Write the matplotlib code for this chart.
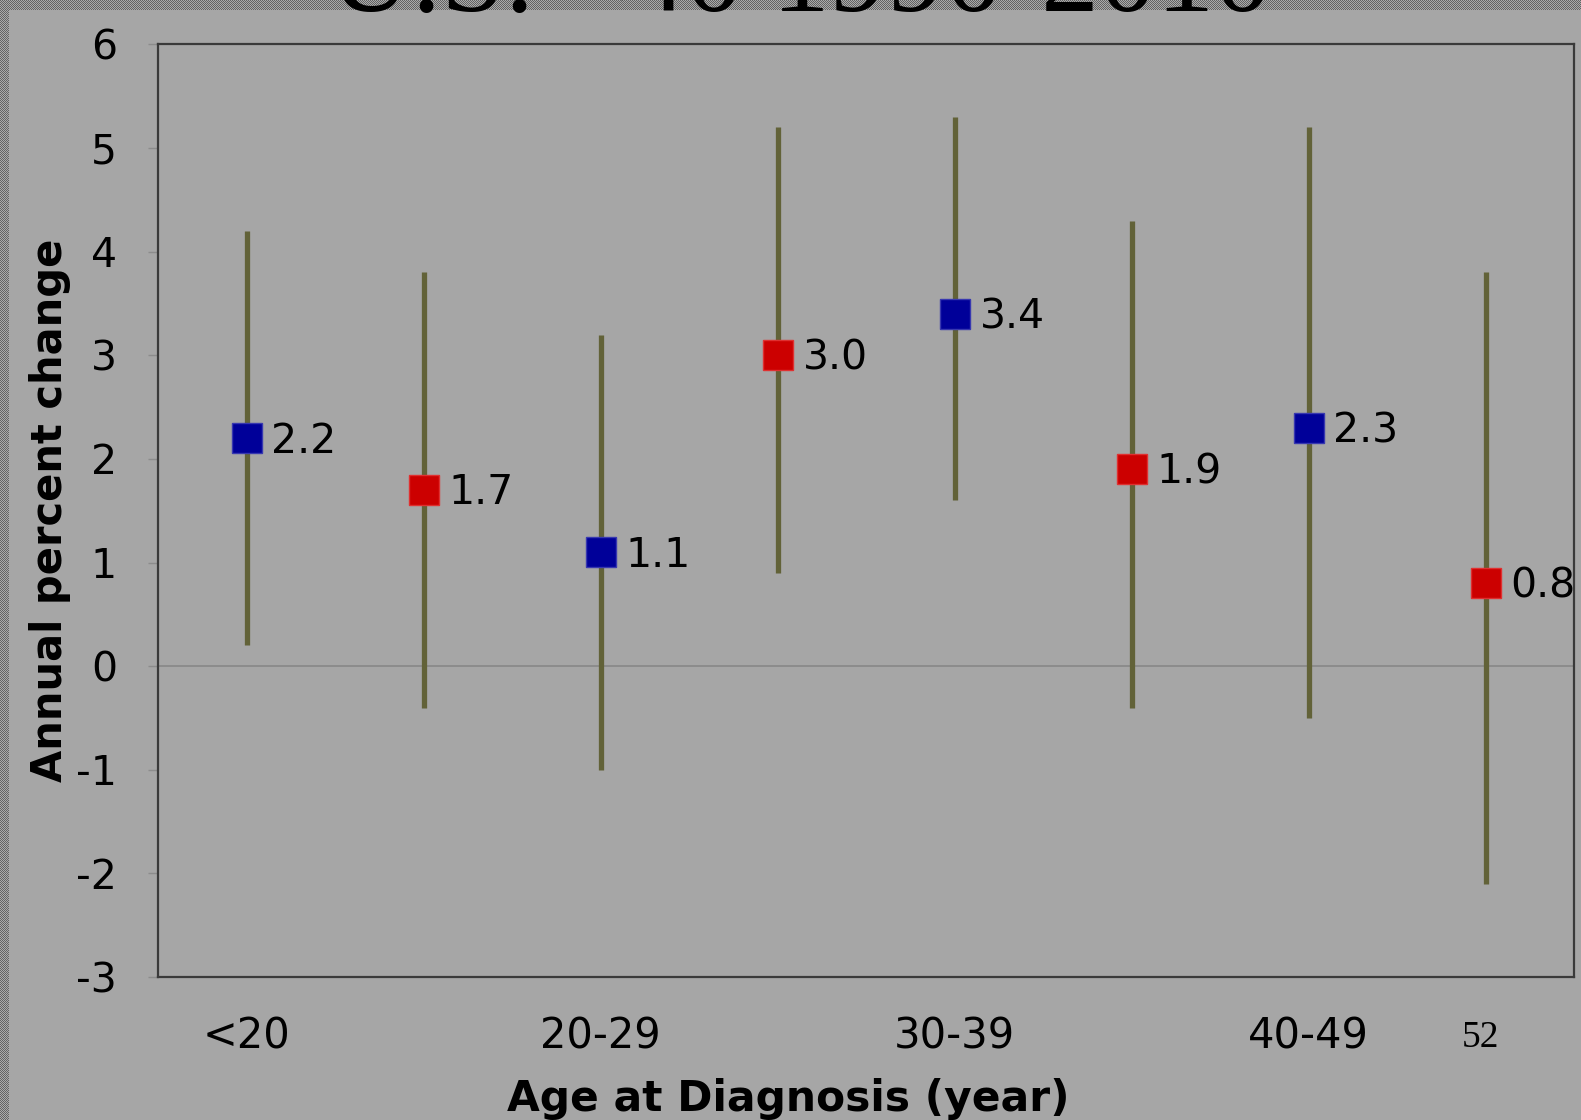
import numpy as np
import matplotlib
matplotlib.use('Agg')
import matplotlib.pyplot as plt

# age groups (only every other slot gets a tick label on the slide)
groups = ['<20', '', '20-29', '', '30-39', '', '40-49', '']
apc = [2.2, 1.7, 1.1, 3.0, 3.4, 1.9, 2.3, 0.8]
ci_low = [0.2, -0.4, -1.0, 0.9, 1.6, -0.4, -0.5, -2.1]
ci_high = [4.2, 3.8, 3.2, 5.2, 5.3, 4.3, 5.2, 3.8]
point_colors = ['#000099', '#CC0000', '#000099', '#CC0000',
                '#000099', '#CC0000', '#000099', '#CC0000']
yticks = [-3, -2, -1, 0, 1, 2, 3, 4, 5, 6]

bg = '#A6A6A6'
fig = plt.figure(figsize=(15.81, 11.20), dpi=100, facecolor=bg)
ax = fig.add_axes([158 / 1581, 1 - 977 / 1120, (1574 - 158) / 1581, (977 - 44.4) / 1120])
ax.set_facecolor(bg)

x = np.arange(len(apc)) + 0.5

ax.axhline(0, color='#8A8A8A', lw=1.3, zorder=1)
ax.vlines(x, ci_low, ci_high, color='#626238', lw=3.8, zorder=2)
for xi, v, c in zip(x, apc, point_colors):
    edge = '#3838B0' if c == '#000099' else '#E03030'
    ax.plot(xi, v, 's', ms=22, color=c, mec=edge, mew=1, zorder=3)
    ax.annotate('%.1f' % v, (xi, v), xytext=(18, -2.5), textcoords='offset points',
                va='center', ha='left', fontsize=29.5, color='black',
                annotation_clip=False, clip_on=True, zorder=4)

ax.set_xlim(0, len(apc))
ax.set_ylim(-3, 6)
ax.set_yticks(yticks)
ax.set_yticklabels([str(t) for t in yticks])
ax.set_xticks(x)
ax.set_xticklabels(groups)
ax.tick_params(axis='y', length=7.5, width=1, color='#8C8C8C', pad=22, labelsize=29.5)
ax.tick_params(axis='x', length=0, pad=28, labelsize=30)

for s in ax.spines.values():
    s.set_color('#3A3A3A')
    s.set_linewidth(1.6)

ax.set_ylabel('Annual percent change', fontsize=30, fontweight='bold')
ax.yaxis.set_label_coords(-(158 - 50) / 1416, 0.5)
ax.set_xlabel('Age at Diagnosis (year)', fontsize=30.5, fontweight='bold')
ax.xaxis.set_label_coords((788 - 158) / 1416, -(1099 - 977) / 932.6)
ax.xaxis.label.set_va('center')
ax.yaxis.label.set_va('center')

# slide decoration: dotted border strips, cut-off title, slide number
chk = np.indices((10, 1581)).sum(axis=0) % 2
top = fig.add_axes([0, 1 - 10 / 1120, 1, 10 / 1120])
top.imshow(chk, cmap='gray', vmin=-1.4, vmax=2.2, aspect='auto', interpolation='nearest')
top.axis('off')
chk2 = np.indices((1120, 9)).sum(axis=0) % 2
left = fig.add_axes([0, 0, 9 / 1581, 1])
left.imshow(chk2, cmap='gray', vmin=-1.4, vmax=2.2, aspect='auto', interpolation='nearest')
left.axis('off')

fig.text(800 / 1581, 1 - 11 / 1120, 'U.S. <40 1990-2010', ha='center', va='baseline',
         fontsize=83, family='Liberation Serif', color='black')
fig.text(1480 / 1581, 1 - 1047 / 1120, '52', ha='center', va='baseline',
         fontsize=27, family='Liberation Serif', color='black')

fig.savefig('out.png', dpi=100, facecolor=bg)
